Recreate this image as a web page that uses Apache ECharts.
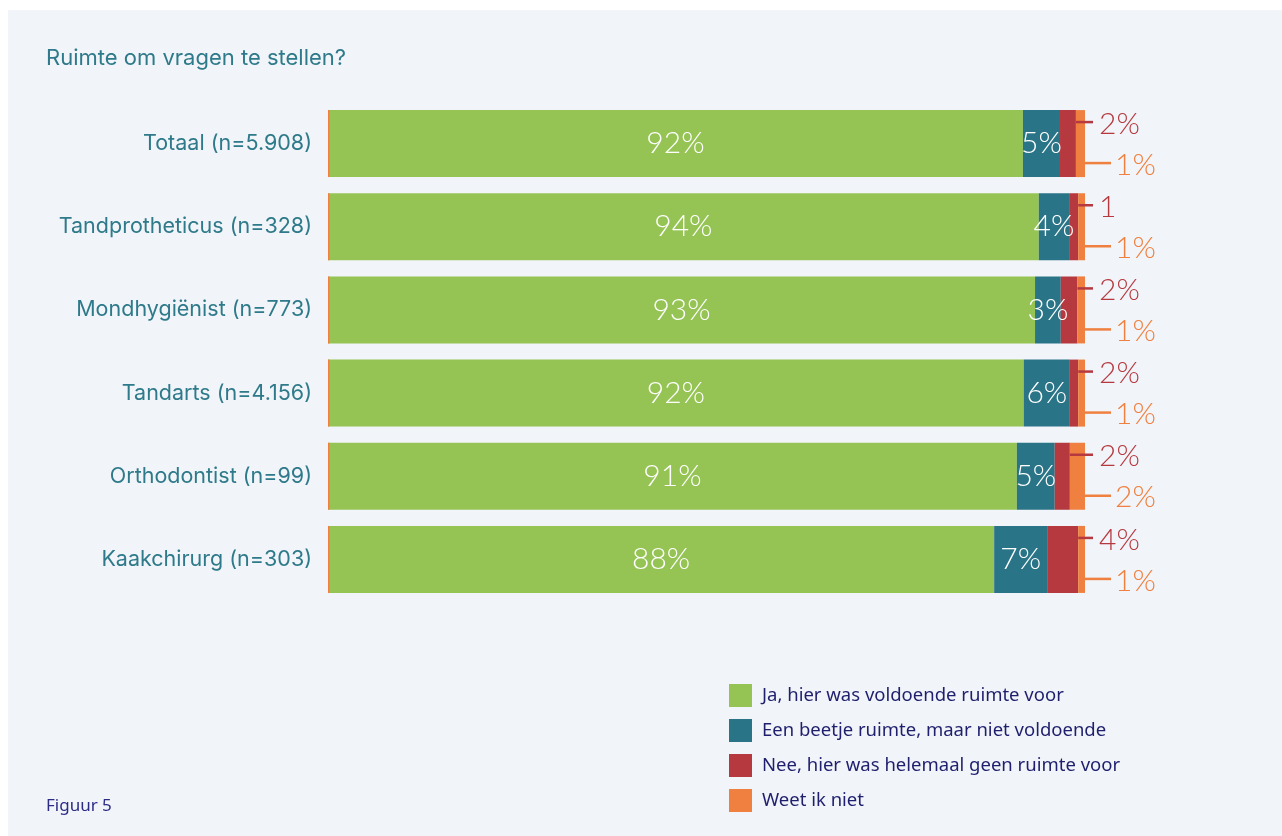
<!DOCTYPE html>
<html>
<head>
<meta charset="utf-8">
<script src="https://cdn.jsdelivr.net/npm/echarts@6/dist/echarts.min.js"></script>
<style>
html,body{margin:0;padding:0;background:#ffffff;}
#chart{width:1282px;height:836px;}
</style>
</head>
<body>
<div id="chart"></div>
<script>
const categories = ['Totaal (n=5.908)', 'Tandprotheticus (n=328)', 'Mondhygiënist (n=773)', 'Tandarts (n=4.156)', 'Orthodontist (n=99)', 'Kaakchirurg (n=303)'];
const seriesNames = ['Ja, hier was voldoende ruimte voor', 'Een beetje ruimte, maar niet voldoende', 'Nee, hier was helemaal geen ruimte voor', 'Weet ik niet'];
const jaValues = [91.8, 93.9, 93.4, 91.9, 91.0, 88.0];
const beetjeValues = [4.9, 4.0, 3.4, 6.1, 5.0, 7.0];
const neeValues = [2.1, 1.2, 2.2, 1.1, 2.0, 4.1];
const weetValues = [1.2, 0.9, 1.0, 0.9, 2.0, 0.9];
const jaLabels = ['92%', '94%', '93%', '92%', '91%', '88%'];
const beetjeLabels = ['5%', '4%', '3%', '6%', '5%', '7%'];
const neeLabels = ['2%', '1', '2%', '2%', '2%', '4%'];
const weetLabels = ['1%', '1%', '1%', '1%', '2%', '1%'];

const colors = ['#95c455', '#2a7487', '#b5393f', '#ef8040'];
const BAR_H = 67;

const chart = echarts.init(document.getElementById('chart'));

function innerLabel(labels) {
  return {
    show: true,
    position: 'inside',
    color: '#ffffff',
    fontFamily: 'Lato',
    fontWeight: 300,
    fontSize: 30,
    formatter: p => labels[p.dataIndex]
  };
}

const option = {
  animation: false,
  backgroundColor: '#ffffff',
  graphic: [
    { type: 'rect', left: 8, top: 10, z: -10, shape: { width: 1274, height: 826 }, style: { fill: '#f1f4f8' } },
    { type: 'text', left: 46, top: 47, style: { text: 'Ruimte om vragen te stellen?', fill: '#2e7a8a', font: '22px Inter' } },
    { type: 'text', left: 46, top: 798, style: { text: 'Figuur 5', fill: '#2c2c86', font: '17px "Noto Sans"' } }
  ],
  legend: {
    data: seriesNames,
    orient: 'vertical',
    left: 729,
    top: 684,
    padding: 0,
    itemWidth: 23,
    itemHeight: 23,
    itemGap: 12,
    icon: 'rect',
    selectedMode: false,
    textStyle: { color: '#1f1f6e', fontSize: 18.5, fontFamily: '"Noto Sans"', padding: [0, 0, 0, 5] }
  },
  grid: { left: 328, right: 197, top: 102, height: 499 },
  xAxis: { type: 'value', min: 0, max: 100, show: false },
  yAxis: {
    type: 'category',
    data: categories,
    inverse: true,
    axisLine: { show: false },
    axisTick: { show: false },
    axisLabel: { color: '#2e7a8a', fontSize: 21.5, fontFamily: 'Inter', margin: 16 }
  },
  series: [
    { name: seriesNames[0], type: 'bar', stack: 'total', barWidth: BAR_H, data: jaValues, itemStyle: { color: colors[0] }, label: innerLabel(jaLabels) },
    { name: seriesNames[1], type: 'bar', stack: 'total', barWidth: BAR_H, data: beetjeValues, itemStyle: { color: colors[1] }, label: innerLabel(beetjeLabels) },
    { name: seriesNames[2], type: 'bar', stack: 'total', barWidth: BAR_H, data: neeValues, itemStyle: { color: colors[2] } },
    { name: seriesNames[3], type: 'bar', stack: 'total', barWidth: BAR_H, data: weetValues, itemStyle: { color: colors[3] } },
    {
      type: 'custom',
      clip: false,
      z: 10,
      data: categories.map((c, i) => [0, i]),
      encode: { x: 0, y: 1 },
      renderItem: function (params, api) {
        const i = params.dataIndex;
        const start = api.coord([0, i]);
        const redEnd = api.coord([jaValues[i] + beetjeValues[i] + neeValues[i], i]);
        const end = api.coord([jaValues[i] + beetjeValues[i] + neeValues[i] + weetValues[i], i]);
        const top = start[1] - BAR_H / 2;
        const ex = end[0];
        return {
          type: 'group',
          children: [
            { type: 'rect', shape: { x: start[0], y: top, width: 1.5, height: BAR_H }, style: { fill: colors[3] } },
            { type: 'line', shape: { x1: redEnd[0], y1: top + 12, x2: ex + 8, y2: top + 12 }, style: { stroke: colors[2], lineWidth: 2.5 } },
            { type: 'text', x: ex + 14, y: top + 14, style: { text: neeLabels[i], fill: colors[2], font: '300 30px Lato', align: 'left', verticalAlign: 'middle' } },
            { type: 'line', shape: { x1: ex, y1: top + 53, x2: ex + 26, y2: top + 53 }, style: { stroke: colors[3], lineWidth: 2.5 } },
            { type: 'text', x: ex + 30, y: top + 55, style: { text: weetLabels[i], fill: colors[3], font: '300 30px Lato', align: 'left', verticalAlign: 'middle' } }
          ]
        };
      }
    }
  ]
};
chart.setOption(option);
</script>
</body>
</html>
